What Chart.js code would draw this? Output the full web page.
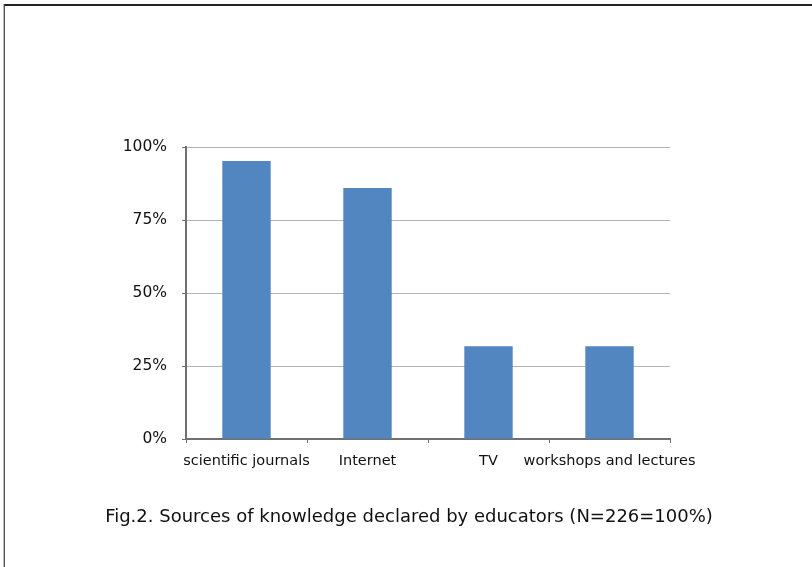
<!DOCTYPE html>
<html>
<head>
<meta charset="utf-8">
<script src="https://cdn.jsdelivr.net/npm/chart.js@4/dist/chart.umd.min.js"></script>
<style>
  html, body { margin: 0; padding: 0; background: #fff; }
  #wrap { position: relative; width: 812px; height: 567px; }
  #frame { position: absolute; left: 4px; top: 4px; right: 0; bottom: 0;
           border-top: 2px solid #222; border-left: 1px solid #555; box-shadow: -1px 0 0 #bbb; }
  canvas { position: absolute; left: 0; top: 0; }
  #caption { position: absolute; left: 0; width: 818px; top: 503px; text-align: center;
             font-family: 'DejaVu Sans', Verdana, sans-serif; font-size: 18px; color: #111; line-height: 26px; }
</style>
</head>
<body>
<div id="wrap">
  <div id="frame"></div>
  <canvas id="c" width="812" height="567"></canvas>
  <div id="caption"></div>
</div>
<script>
// données
var categories = ["scientific journals", "Internet", "TV", "workshops and lectures"]
var shares = [0.952, 0.86, 0.318, 0.318]
var yTicks = [0, 0.25, 0.5, 0.75, 1]
var caption = "Fig.2. Sources of knowledge declared by educators (N=226=100%)"

var bar_color = "#5286c0"
var axis_color = "#707070"
var grid_color = "#b4b4b4"
var font_family = "'DejaVu Sans', Verdana, sans-serif"

document.getElementById('caption').textContent = caption

var config = {
  type: 'bar',
  data: {
    labels: categories,
    datasets: [{
      data: shares,
      backgroundColor: bar_color,
      borderWidth: 0,
      barPercentage: 0.4,
      categoryPercentage: 1.0
    }]
  },
  options: {
    responsive: false,
    animation: false,
    layout: { padding: { left: 0, right: 142, top: 147, bottom: 88 } },
    plugins: {
      legend: { display: false },
      tooltip: { enabled: false }
    },
    scales: {
      x: {
        afterFit: function(scale) { scale.height = 40 },
        grid: { display: true, drawOnChartArea: false, drawTicks: true, tickLength: 4, tickColor: axis_color, offset: true },
        border: { color: axis_color, width: 2 },
        ticks: { color: '#111', font: { family: font_family, size: 14.5 }, padding: 10, maxRotation: 0, autoSkip: false }
      },
      y: {
        min: 0, max: 1,
        afterBuildTicks: function(scale) { scale.ticks = yTicks.map(function(v){ return { value: v } }) },
        afterFit: function(scale) { scale.width = 186 },
        grid: { color: grid_color, lineWidth: 1, tickLength: 4, tickColor: axis_color },
        border: { color: axis_color, width: 2 },
        ticks: {
          color: '#111',
          font: { family: font_family, size: 15.5 },
          padding: 15,
          callback: function(v) { return Math.round(v * 100) + '%' }
        }
      }
    }
  }
}

var chart = new Chart(document.getElementById('c'), config)
</script>
</body>
</html>
